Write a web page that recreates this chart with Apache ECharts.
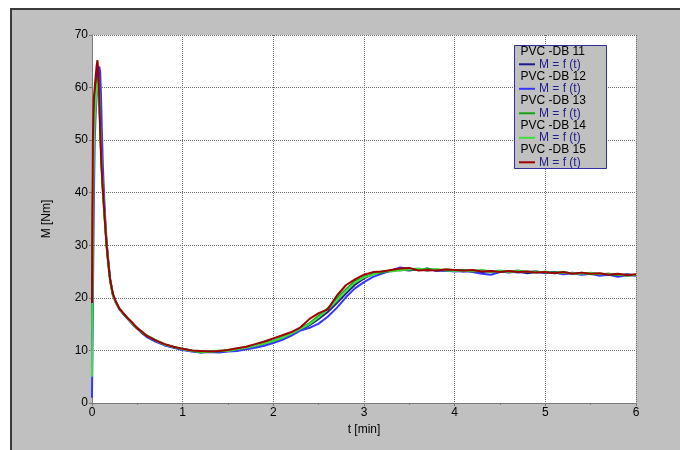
<!DOCTYPE html>
<html>
<head>
<meta charset="utf-8">
<script src="https://cdn.jsdelivr.net/npm/echarts@6/dist/echarts.min.js"></script>
<style>
html,body{margin:0;padding:0;background:#fff;}
#frame{position:absolute;left:10px;top:8px;width:670px;height:442px;background:#c0c0c0;border-left:2px solid #3a3a3a;border-top:2px solid #3a3a3a;box-sizing:border-box;}
#chart{position:absolute;left:0;top:0;width:680px;height:450px;}
</style>
</head>
<body>
<div id="frame"></div>
<div id="chart"></div>
<script>
// time [min]
const T = [0,0.01,0.02,0.03,0.04,0.05,0.06,0.07,0.08,0.09,0.10,0.11,0.12,
  0.14,0.16,0.18,0.20,0.23,0.26,0.30,0.35,0.40,0.45,0.50,0.55,0.60,0.70,0.80,0.90,
  1.0,1.1,1.2,1.3,1.4,1.5,1.6,1.7,1.8,1.9,2.0,
  2.1,2.2,2.3,2.4,2.5,2.6,2.7,2.8,2.9,3.0,
  3.1,3.2,3.3,3.4,3.5,3.6,3.7,3.8,3.9,4.0,
  4.1,4.2,4.3,4.4,4.5,4.6,4.7,4.8,4.9,5.0,
  5.1,5.2,5.3,5.4,5.5,5.6,5.7,5.8,5.9,6.0];

const names = ['PVC -DB 11','PVC -DB 12','PVC -DB 13','PVC -DB 14','PVC -DB 15'];
const subLabel = 'M = f (t)';
const colors = ['#1c1c8e','#3535ff','#16a016','#3ede3e','#a00000'];

// M [Nm]
const m11 = [10,40,52,57,60,62,63.5,63,59,53,48,44,41,
  35.5,30.5,26.8,23.5,20.6,19.3,17.9,16.8,15.9,14.9,14.1,13.3,12.7,11.8,11.0,10.6,
  10.2,9.9,9.7,9.8,9.8,9.9,10.1,10.5,10.8,11.3,11.7,
  12.3,13.0,13.9,14.8,16.0,17.3,19.0,20.8,22.5,23.7,
  24.5,24.9,25.1,25.4,25.2,25.5,25.2,25.4,25.1,25.2,
  25.0,25.2,24.9,25.1,25.0,24.8,25.0,24.7,24.9,24.8,
  24.9,24.6,24.8,24.5,24.7,24.5,24.6,24.3,24.5,24.3];
const m12 = [1,20,38,50,55,58,60.5,62.5,64,63,58,51,45,
  37,31,27,23.6,20.7,19.2,17.9,16.9,15.9,15.0,14.2,13.4,12.6,11.7,11.0,10.5,
  10.1,9.8,9.6,9.7,9.6,9.8,9.9,10.2,10.5,10.9,11.4,
  12.0,12.8,13.8,14.3,15.1,16.4,18.1,20.1,21.8,23.0,
  24.0,24.6,25.2,25.8,25.5,25.3,25.6,25.1,25.2,25.0,
  25.1,24.9,24.6,24.4,24.9,25.0,24.8,24.9,25.0,24.7,
  24.8,24.5,24.7,24.4,24.6,24.2,24.4,24.0,24.3,24.2];
const m13 = [14,42,52,56,58,60,61.5,62,58,52,47,43,40,
  35,30,26.3,23.2,20.5,19.3,18.1,16.9,16.1,15.1,14.3,13.5,12.9,12.0,11.2,10.6,
  10.3,10.0,9.6,9.9,9.8,10.1,10.3,10.6,11.0,11.5,11.9,
  12.5,13.3,14.2,15.2,16.6,18.0,19.9,21.6,23.2,24.0,
  24.6,24.8,25.3,25.2,25.5,25.3,25.6,25.2,25.4,25.3,
  25.3,25.0,25.2,24.9,25.1,25.0,25.2,24.9,25.0,24.8,
  24.8,24.9,24.6,24.8,24.5,24.6,24.5,24.4,24.3,24.4];
const m14 = [5,35,48,54,57,59,60.5,61,59,53,48,44,41,
  35.4,30.3,26.5,23.3,20.7,19.1,18.0,16.9,16.0,15.0,14.2,13.5,12.8,11.9,11.1,10.7,
  10.2,9.9,9.8,9.7,10.0,9.9,10.2,10.5,10.9,11.3,11.8,
  12.4,13.2,14.1,15.0,16.3,17.8,19.5,21.3,22.9,23.9,
  24.4,25.1,25.0,25.3,25.4,25.6,25.3,25.5,25.2,25.1,
  25.2,25.1,25.3,25.0,25.2,24.9,25.1,25.0,24.8,25.0,
  24.7,24.8,24.7,24.6,24.8,24.5,24.6,24.5,24.2,24.4];
const m15 = [19,50,58,60,62,64,65.2,63,58,52,47,43.5,40.5,
  35.2,30.1,26.6,23.4,20.8,19.4,18.0,17.0,16.0,15.2,14.2,13.6,12.8,11.9,11.2,10.7,
  10.3,10.0,9.9,9.8,9.9,10.1,10.4,10.7,11.2,11.7,12.3,
  12.9,13.5,14.4,16.0,17.1,17.8,20.4,22.4,23.5,24.4,
  24.9,25.0,25.3,25.6,25.7,25.2,25.3,25.2,25.4,25.3,
  25.2,25.3,25.0,25.1,24.9,25.1,24.9,25.0,24.8,24.9,
  24.7,24.9,24.6,24.8,24.6,24.7,24.4,24.6,24.3,24.5];

const seriesValues = [m11, m12, m13, m14, m15];

const FONT = "'Liberation Sans', Arial, sans-serif";
const chart = echarts.init(document.getElementById('chart'), null, {renderer: 'canvas'});

// legend box drawn as graphic
const legendEls = [];
const lx = 514.5, ly = 45.5, step = 24.5;
legendEls.push({type:'rect', shape:{x:lx, y:ly, width:92, height:123}, style:{fill:'#c0c0c0', stroke:'#30309a', lineWidth:1}, z:100});
names.forEach((n, i) => {
  const y1 = 51.7 + i*step, y2 = 64.3 + i*step;
  legendEls.push({type:'text', x:520.5, y:y1, style:{text:n, fill:'#000', font:'12px ' + FONT, verticalAlign:'middle', align:'left'}, z:101});
  legendEls.push({type:'line', shape:{x1:519, y1:y2, x2:535, y2:y2}, style:{stroke:colors[i], lineWidth:2}, z:101});
  legendEls.push({type:'text', x:539, y:y2, style:{text:subLabel, fill:'#20208a', font:'12px ' + FONT, verticalAlign:'middle', align:'left'}, z:101});
});

chart.setOption({
  animation: false,
  backgroundColor: 'transparent',
  grid: {left: 92, top: 35, right: 44, bottom: 47, show: true, backgroundColor: '#ffffff', borderWidth: 0, containLabel: false, outerBoundsMode: 'none'},
  xAxis: {
    type: 'value', min: 0, max: 6, interval: 1,
    name: 't [min]', nameLocation: 'middle', nameGap: 20,
    nameTextStyle: {color: '#000', fontSize: 12, fontFamily: FONT},
    axisLine: {show: true, onZero: false, lineStyle: {color: '#7a7a7a', width: 1}},
    axisTick: {show: true, inside: false, length: 3, lineStyle: {color: '#7a7a7a'}},
    minorTick: {show: true, splitNumber: 2, length: 2, lineStyle: {color: '#7a7a7a'}},
    axisLabel: {color: '#000', fontSize: 12, fontFamily: FONT, margin: 4},
    splitLine: {show: true, lineStyle: {color: '#6e6e6e', width: 1, type: [1, 1]}}
  },
  yAxis: {
    type: 'value', min: 0, max: 70, interval: 10,
    name: 'M [Nm]', nameLocation: 'middle', nameGap: 39,
    nameTextStyle: {color: '#000', fontSize: 12, fontFamily: FONT},
    axisLine: {show: true, onZero: false, lineStyle: {color: '#7a7a7a', width: 1}},
    axisTick: {show: true, inside: false, length: 3, lineStyle: {color: '#7a7a7a'}},
    axisLabel: {color: '#000', fontSize: 12, fontFamily: FONT, margin: 4},
    splitLine: {show: true, lineStyle: {color: '#6e6e6e', width: 1, type: [1, 1]}}
  },
  legend: {show: false},
  series: seriesValues.map((vals, i) => ({
    name: names[i],
    type: 'line',
    showSymbol: false,
    symbol: 'none',
    color: colors[i],
    lineStyle: {color: colors[i], width: 2},
    data: T.map((t, k) => [t, vals[k]]),
    z: 2 + i
  })),
  graphic: legendEls
});
</script>
</body>
</html>
